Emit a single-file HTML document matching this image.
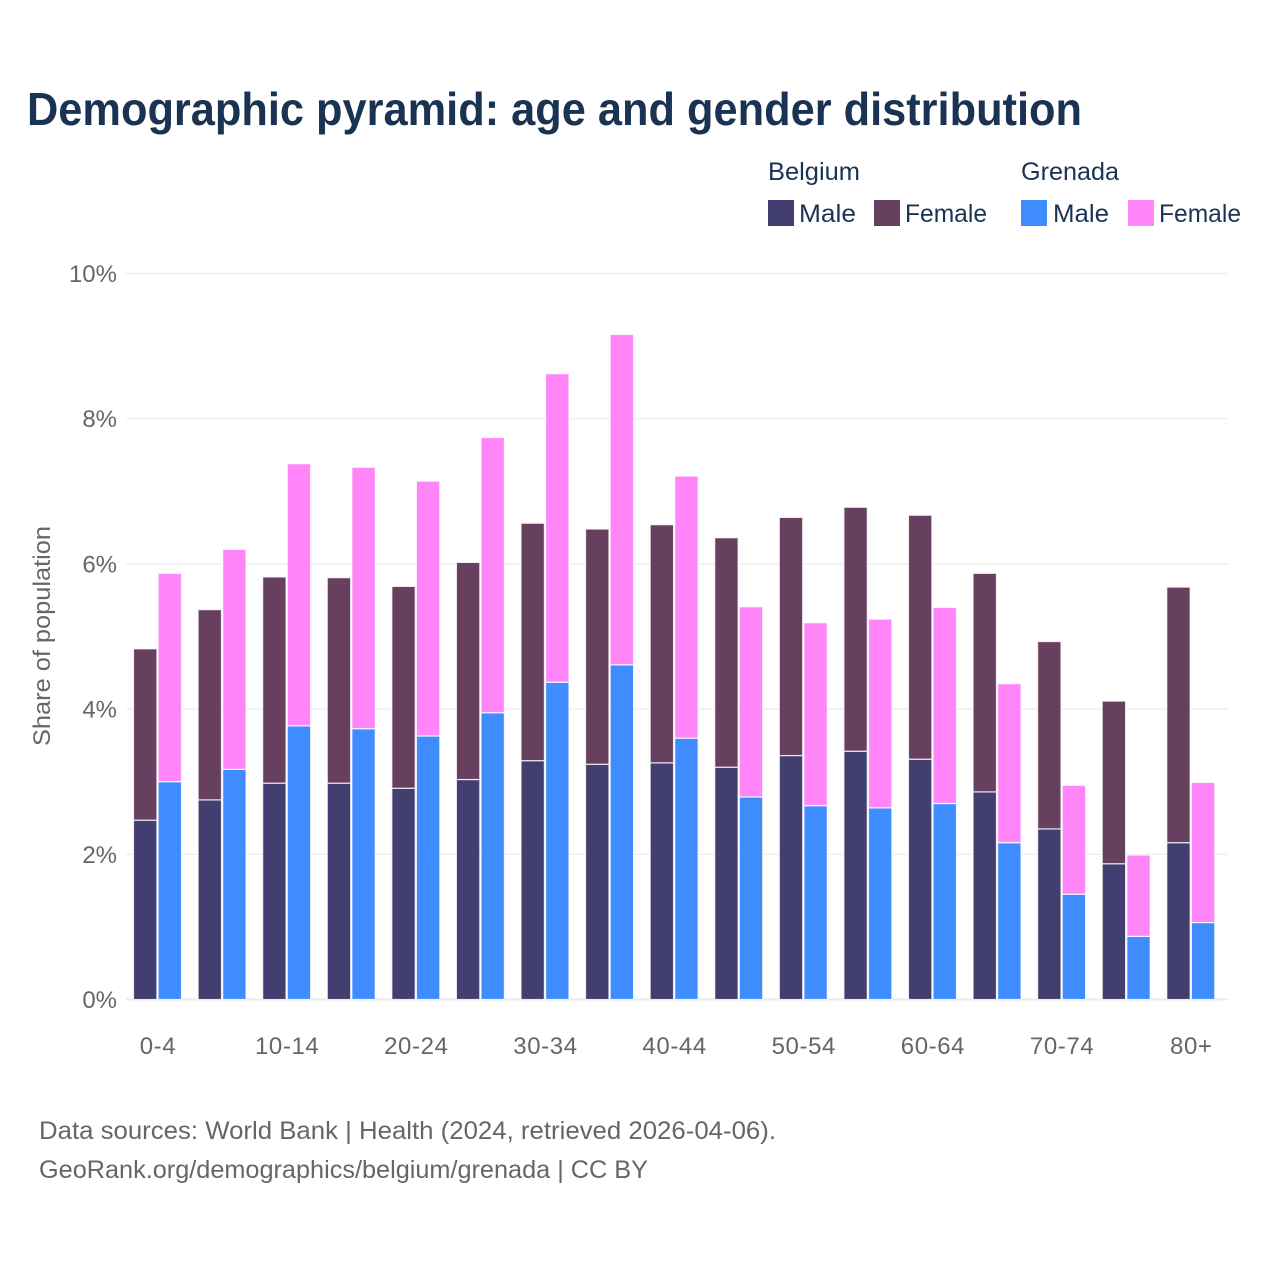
<!DOCTYPE html>
<html lang="en">
<head>
<meta charset="utf-8">
<title>Demographic pyramid</title>
<style>
html,body{margin:0;padding:0;background:#fff;width:1280px;height:1280px;overflow:hidden}
svg{display:block}
text{font-family:"Liberation Sans",sans-serif}
</style>
</head>
<body>
<svg id="chart" xmlns="http://www.w3.org/2000/svg" width="1280" height="1280" viewBox="0 0 1280 1280">
  <rect width="1280" height="1280" fill="#ffffff"/>
  <text x="27" y="125" font-size="46" font-weight="700" fill="#1a3353" textLength="1055" lengthAdjust="spacingAndGlyphs">Demographic pyramid: age and gender distribution</text>

  <g font-size="25" fill="#1a3353">
    <text x="768" y="180" textLength="92" lengthAdjust="spacingAndGlyphs">Belgium</text>
    <text x="1021" y="180" textLength="98" lengthAdjust="spacingAndGlyphs">Grenada</text>
    <rect x="768" y="200" width="26" height="26" fill="#433e70"/>
    <text x="799" y="222" textLength="57" lengthAdjust="spacingAndGlyphs">Male</text>
    <rect x="874" y="200" width="26" height="26" fill="#68405f"/>
    <text x="905" y="222" textLength="82" lengthAdjust="spacingAndGlyphs">Female</text>
    <rect x="1021" y="200" width="26" height="26" fill="#3f8cff"/>
    <text x="1053" y="222" textLength="56" lengthAdjust="spacingAndGlyphs">Male</text>
    <rect x="1128" y="200" width="26" height="26" fill="#ff85f8"/>
    <text x="1159" y="222" textLength="82" lengthAdjust="spacingAndGlyphs">Female</text>
  </g>

  <g id="grid"></g>
  <g id="bars"></g>
  <g id="yticks"></g>
  <g id="xticks"></g>

  <text transform="translate(50,636) rotate(-90)" text-anchor="middle" font-size="24" fill="#666666" textLength="220" lengthAdjust="spacingAndGlyphs">Share of population</text>

  <text x="39" y="1139" font-size="25" fill="#666666" textLength="737" lengthAdjust="spacingAndGlyphs">Data sources: World Bank | Health (2024, retrieved 2026-04-06).</text>
  <text x="39" y="1178" font-size="25" fill="#666666" textLength="609" lengthAdjust="spacingAndGlyphs">GeoRank.org/demographics/belgium/grenada | CC BY</text>
</svg>
<script>
const categories = ["0-4","5-9","10-14","15-19","20-24","25-29","30-34","35-39","40-44","45-49","50-54","55-59","60-64","65-69","70-74","75-79","80+"];
const tickLabelCategories = ["0-4","10-14","20-24","30-34","40-44","50-54","60-64","70-74","80+"];
const yTickValues = [0,2,4,6,8,10];
const belgiumMale = [2.47,2.75,2.98,2.98,2.91,3.03,3.29,3.24,3.26,3.20,3.36,3.42,3.31,2.86,2.35,1.87,2.16];
const belgiumFemale = [2.36,2.62,2.84,2.83,2.78,2.99,3.27,3.24,3.28,3.16,3.28,3.36,3.36,3.01,2.58,2.24,3.52];
const grenadaMale = [3.00,3.17,3.77,3.73,3.63,3.95,4.37,4.61,3.60,2.79,2.67,2.64,2.70,2.16,1.45,0.87,1.06];
const grenadaFemale = [2.87,3.03,3.61,3.60,3.51,3.79,4.25,4.55,3.61,2.62,2.52,2.60,2.70,2.19,1.50,1.12,1.93];

const NS = "http://www.w3.org/2000/svg";
const plot = {left:125.7, step:64.58, y0:999.5, pxPerUnit:72.6, gridLeft:126, gridRight:1228};
const xBand = i => plot.left + plot.step * i;
const yScale = v => plot.y0 - v * plot.pxPerUnit;
const barWidth = 23.4;
const barOffsets = [7.8, 32.4];

function make(tag, attrs, parent){
  const el = document.createElementNS(NS, tag);
  for (const k in attrs) el.setAttribute(k, attrs[k]);
  parent.appendChild(el);
  return el;
}

const gridG = document.getElementById("grid");
const yG = document.getElementById("yticks");
yTickValues.forEach(v => {
  const line = make("line", {x1:plot.gridLeft, x2:plot.gridRight, y1:yScale(v), y2:yScale(v), stroke:"#ebebeb", "stroke-width":v===0?2:1.2}, gridG);
  
  
  const t = make("text", {x:117, y:yScale(v)+8.5, "text-anchor":"end", "font-size":24, fill:"#666666"}, yG);
  
  
  t.textContent = v + "%";
});

const barsG = document.getElementById("bars");
function drawStack(i, groupIdx, lower, upper, lowerColor, upperColor){
  const x = xBand(i) + barOffsets[groupIdx];
  const yLow = yScale(lower);
  const yTop = yScale(lower + upper);
  const a = make("rect", {x:x, y:yLow, width:barWidth, height:plot.y0 - yLow, fill:lowerColor, stroke:"#ffffff", "stroke-width":1.2, "stroke-opacity":0.8}, barsG);
  
  
  const b = make("rect", {x:x, y:yTop, width:barWidth, height:yLow - yTop, fill:upperColor, stroke:"#ffffff", "stroke-width":1.2, "stroke-opacity":0.8}, barsG);
  
  
}
categories.forEach((c, i) => {
  drawStack(i, 0, belgiumMale[i], belgiumFemale[i], "#433e70", "#68405f");
  drawStack(i, 1, grenadaMale[i], grenadaFemale[i], "#3f8cff", "#ff85f8");
});

const xG = document.getElementById("xticks");
tickLabelCategories.forEach(c => {
  const i = categories.indexOf(c);
  const t = make("text", {x:xBand(i) + plot.step/2, y:1054, "text-anchor":"middle", "font-size":24, "letter-spacing":0.6, fill:"#666666"}, xG);
  
  
  t.textContent = c;
});
</script>
</body>
</html>
